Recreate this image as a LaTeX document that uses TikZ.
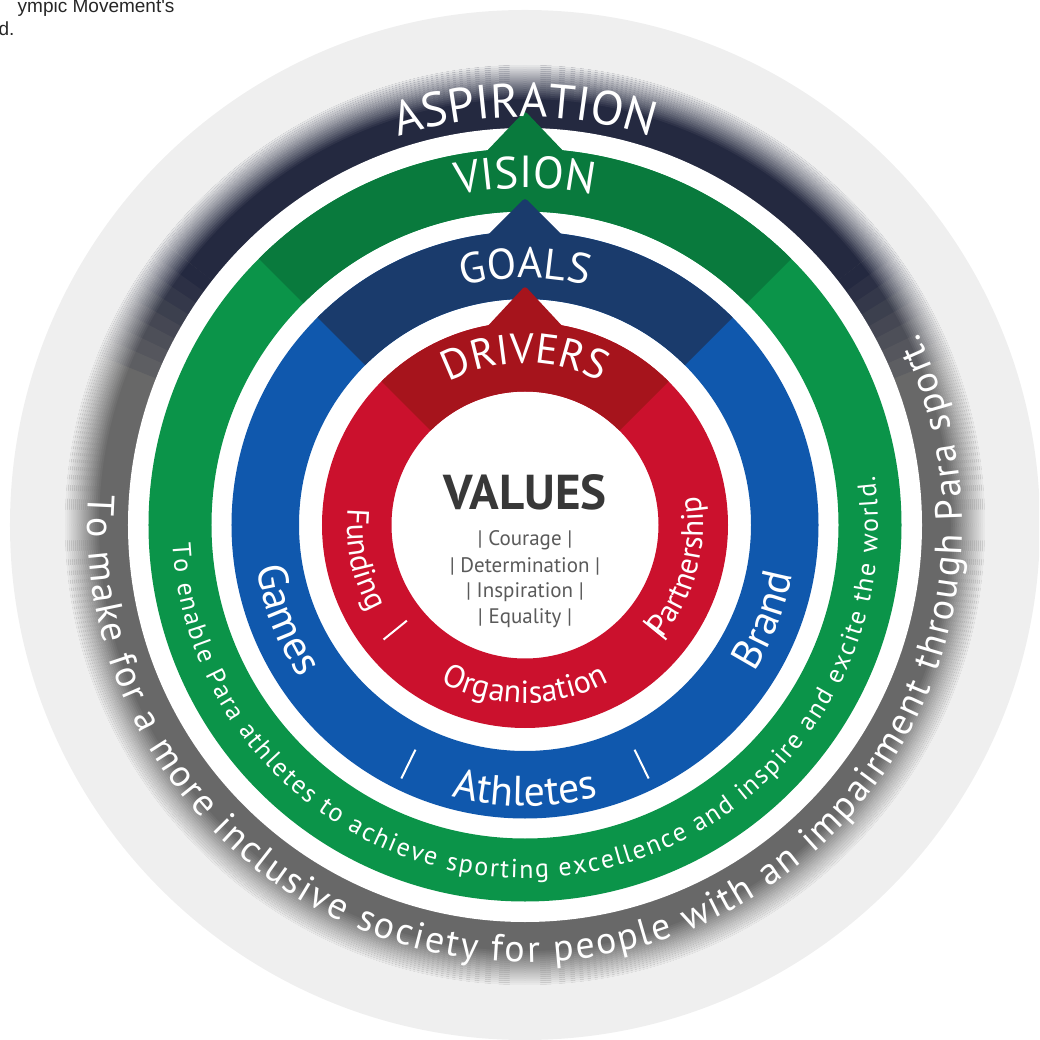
\documentclass[tikz,border=0pt]{standalone}
\usepackage{fontspec}
\setmainfont{PT Sans}
\newfontfamily\notefont{Liberation Sans}
\usetikzlibrary{decorations.text}

\definecolor{bggray}{HTML}{EFEFEF}
\definecolor{ringgray}{HTML}{686868}
\definecolor{aspnavy}{HTML}{242940}
\definecolor{visgreen}{HTML}{097A3D}
\definecolor{ringgreen}{HTML}{0B9449}
\definecolor{goalnavy}{HTML}{1A3B6C}
\definecolor{ringblue}{HTML}{1058AD}
\definecolor{drvred}{HTML}{A6141C}
\definecolor{ringred}{HTML}{CB112D}
\definecolor{valgray}{HTML}{383838}
\definecolor{subgray}{HTML}{5A5A5A}

\tikzset{
  ringtext/.style 2 args={decorate, decoration={text along path, text align=center,
      text={|\fontsize{#1}{#1}\selectfont\color{white}|#2}}},
  fittext/.style 2 args={decorate, decoration={text along path, text align=fit to path,
      text={|\fontsize{#1}{#1}\selectfont\color{white}|#2}}},
  subline/.style={font=\fontsize{21}{21}\selectfont, text=subgray},
  caption/.style={anchor=base east, font=\notefont\fontsize{19}{22}\selectfont, text=black!85},
}

\begin{document}
\begin{tikzpicture}[x=1pt, y=1pt]
\useasboundingbox (-525,-515) rectangle (514,525);
\clip (-525,-515) rectangle (514,525);
% backdrop and cut-off caption
\fill[bggray] (0,0) circle[radius=515pt];
\node[caption] (note1) at (-347,512) {ympic Movement's};
\node[caption] (note2) at (-507,489) {d.};
% outer ring with aspiration arc
\fill[ringgray] (0,0) circle[radius=460pt];
\draw[aspnavy, line width=70pt] (38:425) arc[start angle=38, end angle=142, radius=425pt];
\foreach \i in {0,...,7} {
    \pgfmathsetmacro\mix{100-12*\i}
    \draw[aspnavy!\mix!ringgray, line width=70pt] ({142+2*\i}:425) arc[start angle={142+2*\i}, delta angle=2.3, radius=425pt];
    \draw[aspnavy!\mix!ringgray, line width=70pt] ({38-2*\i}:425) arc[start angle={38-2*\i}, delta angle=-2.3, radius=425pt];
}
\foreach \i in {0,...,17} {
    \pgfmathsetmacro\op{(\i+1)/18}
    \draw[bggray, opacity=\op, line width=2pt] (0,0) circle[radius={(427+2*\i)*1pt}];
}
\fill[white] (0,0) circle[radius=397pt];
% vision
\fill[ringgreen, even odd rule] (0,0) circle[radius=376.5pt] circle[radius=313.5pt];
\fill[visgreen] (45:313.5) arc[start angle=45, end angle=135, radius=313.5pt] -- (135:376.5) arc[start angle=135, end angle=45, radius=376.5pt] -- cycle;
\fill[visgreen, rounded corners=3pt] (-42,370) -- (0,414) -- (42,370) -- cycle;
% goals
\fill[ringblue, even odd rule] (0,0) circle[radius=293.5pt] circle[radius=226pt];
\fill[goalnavy] (45:226) arc[start angle=45, end angle=135, radius=226pt] -- (135:293.5) arc[start angle=135, end angle=45, radius=293.5pt] -- cycle;
\fill[goalnavy, rounded corners=3pt] (-40,287) -- (0,327) -- (40,287) -- cycle;
% drivers
\fill[ringred, even odd rule] (0,0) circle[radius=203pt] circle[radius=133.5pt];
\fill[drvred] (45:133.5) arc[start angle=45, end angle=135, radius=133.5pt] -- (135:203) arc[start angle=135, end angle=45, radius=203pt] -- cycle;
\fill[drvred, rounded corners=3pt] (-40,196) -- (0,239) -- (40,196) -- cycle;
% ring labels, top
\path[ringtext={48}{ASPIRATION}] (165:408) arc[start angle=165, end angle=15, radius=408pt];
\path[ringtext={45}{VISION}] (160:337) arc[start angle=160, end angle=20, radius=337pt];
\path[ringtext={43}{GOALS}] (160:247) arc[start angle=160, end angle=20, radius=247pt];
\path[ringtext={42}{DRIVERS}] (160:162) arc[start angle=160, end angle=20, radius=162pt];
% ring labels, bottom
\path[ringtext={42}{Games}] (141.6:272) arc[start angle=141.6, end angle=261.6, radius=272pt];
\path[ringtext={42}{Athletes}] (210:281) arc[start angle=210, end angle=330, radius=281pt];
\path[ringtext={42}{Brand}] (278.4:272) arc[start angle=278.4, end angle=398.4, radius=272pt];
\path[ringtext={31}{Funding}] (132:178) arc[start angle=132, end angle=252, radius=178pt];
\path[ringtext={32}{Organisation}] (210:178) arc[start angle=210, end angle=330, radius=178pt];
\path[ringtext={31}{Partnership}] (285:178) arc[start angle=285, end angle=405, radius=178pt];
\path[fittext={26}{To enable Para athletes to achieve sporting excellence and inspire and excite the world.}] (183:353) arc[start angle=183, end angle=368, radius=353pt];
\path[fittext={38}{To make for a more inclusive society for people with an impairment through Para sport.}] (176:437) arc[start angle=176, end angle=386, radius=437pt];
% separators
\foreach \a in {219,321} \draw[white, line width=2pt] (\a:152) -- (\a:182);
\foreach \a in {244,296} \draw[white, line width=2pt] (\a:250) -- (\a:282);
% values
\node[font=\bfseries\fontsize{49}{49}\selectfont, text=valgray] (values) at (0,33) {VALUES};
\node[subline] (courage) at (0,-15) {| Courage |};
\node[subline] (determination) at (0,-41.5) {| Determination |};
\node[subline] (inspiration) at (0,-67.5) {| Inspiration |};
\node[subline] (equality) at (0,-93.5) {| Equality |};
\end{tikzpicture}
\end{document}
